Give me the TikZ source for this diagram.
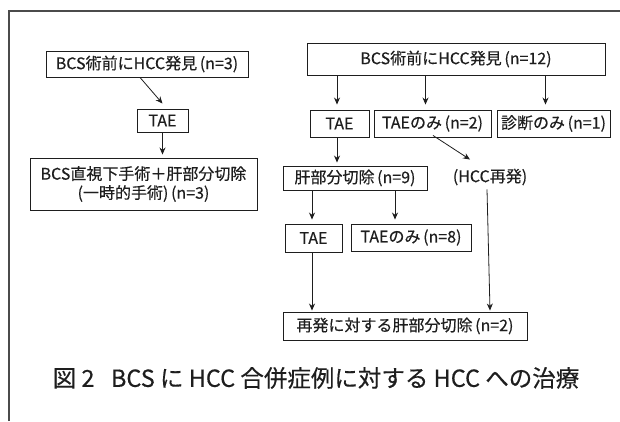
\documentclass[tikz,border=0pt]{standalone}
\usepackage{fontspec}
\setmainfont{Noto Sans CJK JP}[FakeBold=0.4]
\usetikzlibrary{arrows.meta,calc}
\definecolor{ink}{HTML}{1E1E1E}
\tikzset{
  box/.style={draw=ink, line width=0.9pt, inner sep=0pt, align=center, text=ink, font=\fontsize{16}{19}\selectfont},
  plain/.style={inner sep=0pt, text=ink, font=\fontsize{16}{19}\selectfont},
  conn/.style={draw=ink, line width=0.8pt, -{Stealth[length=7pt,width=6pt]}},
  frame/.style={draw=ink!80, line width=1.1pt}
}
\begin{document}
\begin{tikzpicture}[x=1pt,y=-1pt]
\useasboundingbox (0,0) rectangle (620,422);
\coordinate (fbl) at (9,421);
\coordinate (ftl) at (9,11);
\coordinate (ftr) at (620,11);
\draw[frame] (fbl) -- (ftl) -- (ftr);
% left column
\node[box, minimum width=202pt, minimum height=26pt] (a1) at (147,64) {BCS術前にHCC発見\,(n=3)};
\node[box, minimum width=51pt, minimum height=23pt] (a2) at (162.5,120.5) {TAE};
\node[box, minimum width=227pt, minimum height=52pt] (a3) at (143.5,184) {BCS直視下手術＋肝部分切除\\(一時的手術)\,(n=3)};
\draw[conn] ([xshift=-7pt]a1.south) -- ([yshift=5pt]a2.north);
\draw[conn] (a2.south) -- ([yshift=3pt]a3.north -| a2.south);
% right column
\node[box, minimum width=298pt, minimum height=32pt] (b1) at (456,59) {BCS術前にHCC発見\,(n=12)};
\node[box, minimum width=59pt, minimum height=27pt] (b2) at (339.5,123.5) {TAE};
\node[box, minimum width=117pt, minimum height=27pt] (b3) at (432.5,123.5) {TAEのみ\,(n=2)};
\node[box, minimum width=113pt, minimum height=27pt] (b4) at (553.5,123.5) {診断のみ\,(n=1)};
\node[box, minimum width=144pt, minimum height=24pt] (b5) at (355,178) {肝部分切除\,(n=9)};
\node[plain] (t) at (490,177) {(HCC再発)};
\node[box, minimum width=57pt, minimum height=28pt] (b6) at (313.5,238) {TAE};
\node[box, minimum width=120pt, minimum height=27pt] (b7) at (411,237.5) {TAEのみ\,(n=8)};
\node[box, minimum width=244pt, minimum height=28pt] (b8) at (405,326) {再発に対する肝部分切除\,(n=2)};
\draw[conn] ([xshift=-2.5pt]b1.south -| b2.north) -- ([xshift=-2.5pt,yshift=5pt]b2.north);
\draw[conn] ([xshift=-7pt]b1.south -| b3.north) -- ([xshift=-7pt,yshift=5pt]b3.north);
\draw[conn] ([xshift=-8pt]b1.south -| b4.north) -- ([xshift=-8pt,yshift=5pt]b4.north);
\draw[conn] ([xshift=-2.5pt]b2.south) -- ([xshift=-18pt,yshift=3pt]b5.north);
\draw[conn] ([xshift=-43pt]b5.south) -- ([xshift=-1.5pt,yshift=4pt]b6.north);
\draw[conn] ([xshift=40pt]b5.south) -- ([xshift=-16pt,yshift=4pt]b7.north);
\draw[conn] ([xshift=0.5pt,yshift=2pt]b3.south) -- ([xshift=-20pt,yshift=9pt]t.north);
\draw[conn] ([xshift=-3pt,yshift=-4pt]t.south) -- ([yshift=1pt]t.south |- b8.north);
\draw[conn] ([xshift=-1.5pt]b6.south) -- ([xshift=-93pt,yshift=1pt]b8.north);
% caption
\node[plain, font=\fontsize{23.5}{28}\selectfont] (cap) at (316,378) {図 2\hspace{0.7em}BCS に HCC 合併症例に対する HCC への治療};
\end{tikzpicture}
\end{document}
